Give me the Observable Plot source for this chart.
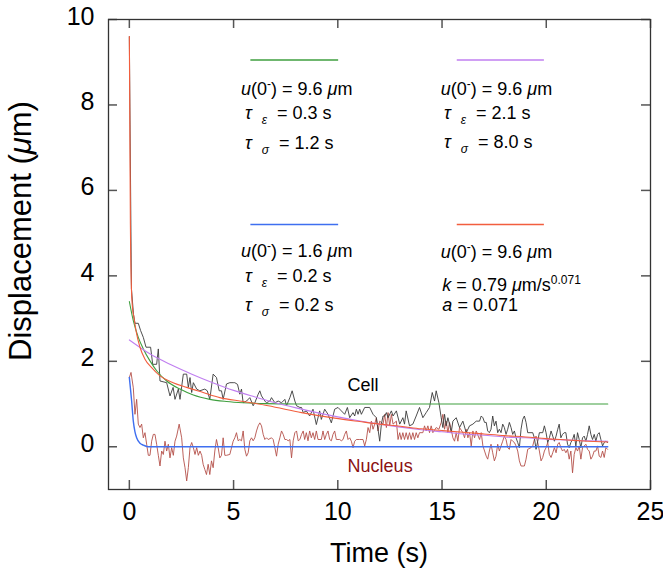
<!DOCTYPE html>
<html><head><meta charset="utf-8">
<script src="https://cdn.jsdelivr.net/npm/d3@7"></script>
<script src="https://cdn.jsdelivr.net/npm/@observablehq/plot@0.6"></script>
<style>
body{margin:0;background:#fff;}
#chart svg{font-family:Helvetica,"Liberation Sans",Arial,sans-serif;}
</style>
</head><body><div id="chart"></div>
<script>
// ---- tick values ----
const xTicks = [0, 5, 10, 15, 20, 25];
const yTicks = [0, 2, 4, 6, 8, 10];

// ---- measured cell displacement (s, µm) ----
const cellT = [0,0.1,0.2,0.27,0.43,0.54,0.67,0.8,1.02,1.12,1.31,1.39,1.47,1.79,1.95,2.1,2.19,2.35,2.43,2.59,2.75,2.83,2.91,2.99,3.07,3.23,3.38,3.62,3.74,3.86,4.02,4.18,4.31,4.42,4.5,4.66,4.82,4.98,
5.06,5.19,5.3,5.38,5.46,5.62,5.78,5.94,6.02,6.18,6.26,6.34,6.5,6.58,6.74,6.82,6.98,7.14,7.3,7.46,7.54,7.7,7.81,7.94,8.02,8.18,8.26,8.34,8.49,8.65,8.81,8.97,9.13,9.21,9.37,9.53,9.69,9.85,10.01,10.17,10.33,10.46,
10.57,10.73,10.81,10.89,10.97,11.05,11.13,11.29,11.53,11.69,11.85,12.01,12.09,12.17,12.25,12.33,12.41,12.57,12.65,12.81,12.97,13.12,13.2,13.28,13.44,13.6,13.76,13.92,14.08,14.24,14.4,14.53,14.64,14.72,14.85,14.96,15.04,15.12,15.2,15.28,15.36,15.44,15.52,15.68,15.84,16,16.16,16.32,16.48,16.64,16.8,
16.88,16.96,17.04,17.12,17.19,17.27,17.35,17.43,17.51,17.59,17.67,17.75,17.83,17.91,17.99,18.07,18.15,18.23,18.31,18.39,18.47,18.55,18.63,18.71,18.79,18.87,18.95,19.03,19.11,19.35,19.43,19.51,19.59,19.67,19.83,19.91,19.99,20.07,20.15,20.23,20.31,20.39,20.47,20.55,20.62,20.7,20.78,20.86,20.94,21.02,21.1,21.18,21.26,21.34,21.42,21.5,21.58,21.66,21.74,21.82,21.9,21.98,22.06,22.14,22.22,22.3,22.38,22.46,22.54,22.62,22.7,22.78,22.86,22.94];
const cellV = [9.6,3.7,3.1,2.89,2.89,2.72,2.56,2.33,2.33,1.93,1.93,2.29,1.54,1.5,1.19,1.39,1.11,1.35,1.11,1.7,1.7,1.39,1.62,1.27,1.5,1.35,1.31,1.35,1.31,1.11,1.7,1.62,1.31,1.31,1.11,1.47,1.5,1.5,
1.5,1.46,1.23,1.35,1.03,1.07,1.15,0.96,1.03,1.23,1.31,1.19,1.07,1.03,1.07,1.15,1.03,1.07,1.03,1.11,0.96,1.15,1.31,1.07,0.96,0.92,0.92,0.8,0.84,0.72,0.88,0.52,0.84,0.64,0.88,0.76,0.56,0.88,0.92,0.84,0.76,0.92,
0.68,0.8,0.72,0.88,0.76,0.88,0.76,0.92,0.92,0.76,0.68,0.13,0.53,0.72,0.72,0.8,0.68,0.84,0.72,0.84,0.53,0.68,0.53,0.84,0.49,0.53,0.72,0.92,0.68,0.8,0.92,1.27,1.07,1.31,1.03,0.68,0.45,0.76,0.49,0.68,0.53,0.33,0.6,0.68,0.45,0.6,0.33,0.49,0.53,0.6,0.6,
0.72,0.68,0.57,0.57,0.37,0.33,0.41,0.72,0.49,0.6,0.33,0.41,0.33,0.53,0.45,0.29,0.41,0.57,0.45,0.29,0.37,0.21,0.1,-0.02,0.41,0.64,0.72,0.57,0.33,0.33,0.21,-0.06,0.13,0.33,0.33,0.49,0.33,0.1,0.21,0.37,0.25,0.13,0.25,0.41,0.53,0.21,0.29,0.33,0.33,0.06,-0.02,0.1,0.17,0.29,0.02,0.33,0.17,-0.02,0.21,0.25,0.13,0.29,0.49,0.29,0.17,0.29,0.13,0.29,0.33,0.17,0.02,0.1,0.13,0.1];

// ---- measured nucleus displacement (s, µm) ----
const nucT = [0,0.08,0.19,0.27,0.35,0.43,0.51,0.59,0.67,0.75,0.83,0.91,0.99,1.07,1.15,1.23,1.31,1.39,1.47,1.55,1.63,1.71,1.79,1.87,1.95,2.03,2.11,2.19,2.27,2.39,2.51,2.59,2.67,2.75,2.83,2.91,2.99,3.07,3.15,3.23,3.31,3.39,3.47,3.54,3.62,3.7,3.78,3.86,3.94,4.02,4.1,4.18,4.26,4.34,4.42,4.5,4.58,4.66,4.82,4.98,5.06,5.14,
5.22,5.3,5.38,5.46,5.54,5.62,5.7,5.78,5.86,5.94,6.02,6.1,6.18,6.26,6.34,6.42,6.5,6.58,6.66,6.82,6.9,6.98,7.06,7.14,7.22,7.3,7.38,7.46,7.54,7.62,7.7,7.78,7.86,7.94,8.02,8.1,8.18,8.26,8.34,8.41,8.49,8.57,8.65,8.73,8.81,8.89,8.97,9.05,9.21,9.29,9.37,9.45,9.53,9.61,9.69,9.77,9.85,9.93,10.09,10.17,10.25,10.33,10.41,10.49,
10.57,10.65,10.73,10.81,10.89,11.05,11.21,11.29,11.37,11.45,11.53,11.61,11.69,11.77,11.85,11.93,12.01,12.17,12.25,12.33,12.41,12.49,12.57,12.65,12.81,12.89,12.97,13.04,13.12,13.2,13.28,13.36,13.44,13.52,13.6,13.68,13.76,13.84,13.92,14.08,14.16,14.24,14.32,14.4,14.48,14.56,14.72,14.85,14.96,15.04,15.12,15.2,15.28,15.36,15.44,15.52,15.6,15.68,15.76,15.84,16,16.08,16.16,16.24,16.32,16.4,16.48,16.56,16.64,16.8,16.88,16.96,
17.04,17.12,17.19,17.27,17.35,17.43,17.51,17.59,17.67,17.75,17.83,17.91,17.99,18.07,18.15,18.23,18.31,18.39,18.47,18.55,18.63,18.71,18.79,18.95,19.03,19.11,19.27,19.35,19.43,19.51,19.59,19.67,19.75,19.83,19.91,19.99,20.07,20.15,20.23,20.31,20.39,20.47,20.55,20.62,20.7,20.78,20.86,20.94,21.02,21.1,21.18,21.26,21.34,21.42,21.5,21.58,21.66,21.74,21.82,21.9,21.98,22.06,22.14,22.22,22.3,22.38,22.46,22.54,22.62,22.7,22.78,22.86,22.94];
const nucV = [1.62,1.74,1.38,0.76,1.11,0.53,0.45,0.53,0.21,0.33,0.06,-0.2,-0.2,0.13,0.29,0.29,0.06,-0.2,-0.45,-0.1,-0.18,0.13,-0.1,0.06,-0.26,-0.02,-0.2,0.13,0.25,0.53,0.21,-0.26,-0.49,-0.8,-0.49,-0.02,0.1,-0.02,-0.18,-0.02,-0.2,-0.1,-0.2,-0.41,-0.53,-0.65,-0.41,-0.65,-0.33,-0.49,-0.1,0.17,-0.02,-0.26,-0.2,0.21,-0.2,-0.2,-0.18,0.13,0.21,0.33,
0.14,0.17,0.14,0.37,-0.06,-0.22,-0.14,0.14,0.21,0.14,0.21,0.37,0.49,0.56,0.49,0.29,0.17,0.21,0.17,0.21,0.17,-0.02,-0.22,0.06,0.21,0.37,0.29,0.17,0.17,0.14,0.17,-0.26,0.14,0.33,0.37,0.14,0.17,0.29,0.37,0.17,0.33,0.14,0.37,0.21,0.33,0.17,0.37,0.17,0.17,0.37,0.17,0.29,0.37,0.17,0.14,0.29,0.37,0.17,0.17,0.14,0.17,0.29,0.37,0.17,
0.21,0.13,-0.02,0.13,0.17,0.17,0.17,0.02,0.17,0.45,0.33,0.6,0.41,0.53,0.68,0.37,0.6,0.53,0.76,0.45,0.8,0.49,0.76,0.53,0.6,0.17,0.33,0.17,0.33,0.17,0.33,0.17,0.33,0.17,0.33,0.17,0.33,0.21,0.33,0.33,0.49,0.37,0.49,0.33,0.49,0.33,0.45,0.41,0.57,0.76,0.41,0.6,0.33,0.57,0.41,0.21,0.13,0.33,0.13,0.45,0.33,0.21,0.41,0.21,0.33,0.02,0.37,0.21,0.37,0.17,0.33,0.02,
-0.1,-0.22,-0.29,-0.1,0.06,-0.14,-0.33,-0.22,0.06,-0.1,0.02,0.13,0.25,0.17,-0.02,-0.06,0.17,0.13,0.1,0.02,-0.1,-0.33,-0.45,-0.45,-0.29,-0.06,-0.02,0.02,0.17,0.25,0.1,-0.1,-0.33,-0.25,-0.1,-0.02,0.1,-0.18,-0.25,-0.14,-0.02,-0.14,0.06,0.1,-0.02,-0.1,-0.06,-0.14,-0.06,-0.29,-0.1,-0.61,-0.18,-0.02,-0.1,0.02,-0.29,-0.02,0.02,0.06,-0.06,-0.1,-0.29,-0.22,-0.1,-0.1,0.02,-0.22,-0.25,-0.1,-0.25,-0.02,-0.06];

// ---- fitted curves ----
const greenT = [0,0.19,0.43,0.67,0.99,1.31,1.79,2.43,3.07,3.86,4.66,5.46,6.5,8,22.95];
const greenV = [3.4,2.95,2.56,2.29,2.01,1.78,1.54,1.35,1.21,1.11,1.06,1.03,1.01,1.0,1.0];
const purpleT = [0,1,2,3,4,5,6,7,8,9,10,11,12,13,14,15,16,17,18,19,20,21,22,22.95];
const purpleV = [2.5,2.17,1.92,1.7,1.5,1.32,1.17,1.03,0.91,0.8,0.7,0.61,0.53,0.46,0.4,0.35,0.3,0.27,0.23,0.21,0.18,0.16,0.14,0.13];
const redT = [0,0.05,0.1,0.15,0.22,0.35,0.51,0.75,1.07,1.47,2.1,2.75,3.54,4.34,5.46,6.66,8.26,9.85,11.05,12,13,14,15,16,17,18,19,20,21,22,22.95];
const redV = [9.6,5.2,3.7,3.26,3.03,2.64,2.33,2.05,1.85,1.66,1.5,1.39,1.27,1.15,1.06,0.96,0.8,0.67,0.59,0.53,0.48,0.42,0.38,0.34,0.3,0.26,0.23,0.19,0.16,0.13,0.11];
const blueT = [0,0.11,0.19,0.27,0.35,0.51,0.67,0.91,22.95];
const blueV = [1.62,1.07,0.6,0.35,0.21,0.08,0.04,0,0];

// ---- colours ----
const C = {cell:"#3a3a3a", nuc:"#b4504a", green:"#3f9f3f", purple:"#c07ff0", red:"#f25e3e", blue:"#3f6ff0", nucText:"#8b1212"};

const toRows = (T, V) => T.map((t, i) => ({t, v: V[i]}));
const cell = toRows(cellT, cellV), nuc = toRows(nucT, nucV);
const green = toRows(greenT, greenV), purple = toRows(purpleT, purpleV);
const red = toRows(redT, redV), blue = toRows(blueT, blueV);

// legend swatches (x1, x2, y in data units)
const swatches = [
  {x1:5.83, x2:10.04, y:9.05, c:C.green},
  {x1:15.73, x2:19.91, y:9.05, c:C.purple},
  {x1:5.83, x2:10.04, y:5.2, c:C.blue},
  {x1:15.73, x2:19.91, y:5.2, c:C.red}
];

const W = 663, H = 573, mL = 108, mR = 13, mT = 19, mB = 84;
const plotW = W - mL - mR, plotH = H - mT - mB, TICK_LEN = 9;
const tickStroke = "#555";
const FONT = 'Helvetica,"Liberation Sans",Arial,sans-serif';
const plot = Plot.plot({
  width: W, height: H,
  marginLeft: mL, marginRight: mR, marginTop: mT, marginBottom: mB,
  style: {fontFamily: FONT, background: "#fff"},
  x: {domain: [-1, 25]},
  y: {domain: [-1, 10]},
  marks: [
    Plot.axisX({ticks: xTicks, anchor: "bottom", tickSize: 0, tickPadding: 13, fontSize: 25, label: null, color: "#000"}),
    Plot.axisY({ticks: yTicks, anchor: "left", tickSize: 0, tickPadding: 14, fontSize: 25, label: null, color: "#000", dy: -3}),
    // inward tick marks on all four sides
    Plot.ruleX(xTicks, {x: d => d, insetTop: plotH - TICK_LEN, stroke: tickStroke, strokeWidth: 1.5}),
    Plot.ruleX(xTicks, {x: d => d, insetBottom: plotH - TICK_LEN, stroke: tickStroke, strokeWidth: 1.5}),
    Plot.ruleY(yTicks, {y: d => d, insetRight: plotW - TICK_LEN, stroke: tickStroke, strokeWidth: 1.5}),
    Plot.ruleY(yTicks, {y: d => d, insetLeft: plotW - TICK_LEN, stroke: tickStroke, strokeWidth: 1.5}),
    Plot.line(nuc, {x: "t", y: "v", stroke: C.nuc, strokeWidth: 0.9}),
    Plot.line(cell, {x: "t", y: "v", stroke: C.cell, strokeWidth: 0.9}),
    Plot.line(green, {x: "t", y: "v", stroke: C.green, strokeWidth: 1.1, curve: "monotone-x"}),
    Plot.line(purple, {x: "t", y: "v", stroke: C.purple, strokeWidth: 1.1, curve: "monotone-x"}),
    Plot.line(blue, {x: "t", y: "v", stroke: C.blue, strokeWidth: 1.4, curve: "monotone-x"}),
    Plot.line(red, {x: "t", y: "v", stroke: C.red, strokeWidth: 1.1, curve: "monotone-x"}),
    Plot.ruleY(swatches, {y: "y", x1: "x1", x2: "x2", stroke: "c", strokeWidth: 1.5}),
    Plot.text(["Cell"], {x: 10.47, y: 1.44, textAnchor: "start", fontSize: 18, fill: "#000"}),
    Plot.text(["Nucleus"], {x: 10.47, y: -0.46, textAnchor: "start", fontSize: 18, fill: C.nucText}),
    Plot.frame({stroke: "#333", strokeWidth: 1.3})
  ]
});
document.getElementById("chart").append(plot);

const sx = plot.scale("x"), sy = plot.scale("y");
const svg = d3.select(plot);
const [xL, xR] = sx.range;

// ---- rich-text annotations, positioned through the plot's scales ----
const U = (val) => [{t:"u", i:1}, {t:"(0"}, {t:"-", sup:1}, {t:") = " + val + " "}, {t:"μ", i:1}, {t:"m"}];
const TAU = (sub, val) => [{t:"τ", i:1}, {t:"  "}, {t:sub, sub:1, i:1}, {t:"  = " + val + " s"}];
const notes = [
  {x: 5.38, y: 8.21, parts: U("9.6")},
  {x: 5.57, y: 7.67, parts: TAU("ε", "0.3")},
  {x: 5.57, y: 6.96, parts: TAU("σ", "1.2")},
  {x: 14.96, y: 8.21, parts: U("9.6")},
  {x: 15.12, y: 7.67, parts: TAU("ε", "2.1")},
  {x: 15.12, y: 6.99, parts: TAU("σ", "8.0")},
  {x: 5.38, y: 4.43, parts: U("1.6")},
  {x: 5.57, y: 3.84, parts: TAU("ε", "0.2")},
  {x: 5.57, y: 3.16, parts: TAU("σ", "0.2")},
  {x: 14.96, y: 4.41, parts: U("9.6")},
  {x: 15.04, y: 3.63, parts: [{t:"k", i:1}, {t:" = 0.79 "}, {t:"μ", i:1}, {t:"m/s"}, {t:"0.071", sup:1}]},
  {x: 15.04, y: 3.16, parts: [{t:"a", i:1}, {t:" = 0.071"}]}
];
function rich(g, parts) {
  let shift = 0;
  for (const p of parts) {
    const target = p.sup ? -7 : p.sub ? 5 : 0;
    const ts = g.append("tspan").text(p.t).attr("dy", target - shift).style("white-space", "pre");
    shift = target;
    if (p.i) ts.attr("font-style", "italic");
    if (p.sup || p.sub) ts.attr("font-size", 12);
  }
}
const ann = svg.append("g").attr("font-size", 18).attr("fill", "#000").attr("text-anchor", "start").attr("font-family", FONT);
for (const n of notes) {
  const g = ann.append("text").attr("x", sx.apply(n.x)).attr("y", sy.apply(n.y)).style("white-space", "pre");
  rich(g, n.parts);
}
// axis titles
svg.append("text").attr("x", (xL + xR) / 2).attr("y", 562)
  .attr("text-anchor", "middle").attr("font-size", 27).attr("font-family", FONT).attr("fill", "#000").text("Time (s)");
const yt = svg.append("text").attr("transform", `translate(31,231) rotate(-90)`)
  .attr("text-anchor", "middle").style("font-size", "31px").attr("font-family", FONT).attr("fill", "#000");
rich(yt, [{t:"Displacement ("}, {t:"μ", i:1}, {t:"m)"}]);
</script>
</body></html>
